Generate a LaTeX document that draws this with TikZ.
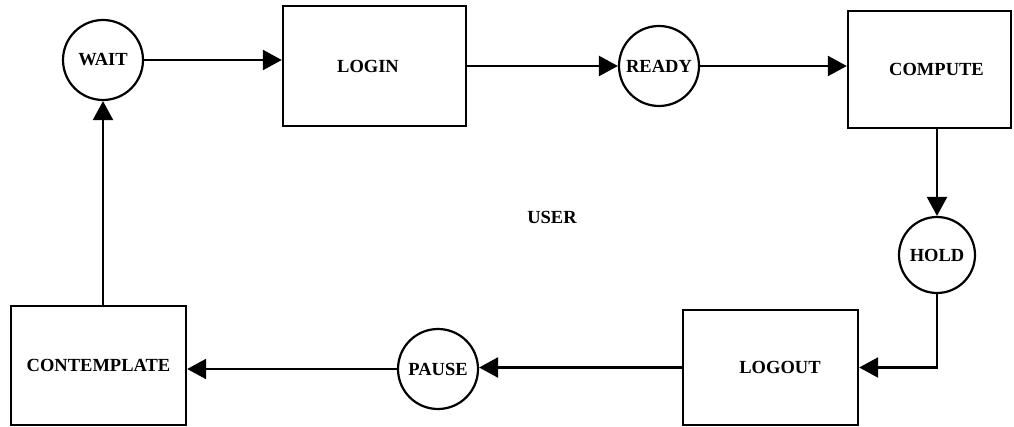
\documentclass[tikz,border=0pt]{standalone}
\usepackage{fontspec}
\setmainfont{Liberation Serif}
\usetikzlibrary{arrows.meta}
\begin{document}
\begin{tikzpicture}[x=1pt,y=-1pt,
  every node/.style={font=\fontsize{18.5}{20}\selectfont\bfseries},
  state/.style={draw, circle, line width=2.2pt, minimum size=80pt, inner sep=0pt},
  proc/.style={draw, rectangle, line width=2.4pt, inner sep=0pt},
  flow/.style={line width=2.4pt, -{Triangle[length=19pt,width=20pt]}}]
\useasboundingbox (0,0) rectangle (1014,427);
\node[state] (WAIT) at (103,60) {WAIT};
\node[proc, minimum width=183pt, minimum height=120pt] (LOGIN) at (374.5,66) {LOGIN\hspace*{13pt}};
\node[state] (READY) at (659,66) {READY};
\node[proc, minimum width=163pt, minimum height=117pt] (COMPUTE) at (929.5,69.5) {\hspace*{14pt}COMPUTE};
\node[state, minimum size=76pt] (HOLD) at (937,255) {HOLD};
\node[proc, minimum width=175pt, minimum height=115pt] (LOGOUT) at (770.5,367.5) {\hspace*{19pt}LOGOUT};
\node[state] (PAUSE) at (438,369) {PAUSE};
\node[proc, minimum width=175pt, minimum height=119pt] (CONTEMPLATE) at (98.5,365.5) {CONTEMPLATE};
\node (USER) at (552,217) {USER};
\draw[flow] (WAIT.east) -- (WAIT.east -| LOGIN.west);
\draw[flow] (LOGIN.east) -- (LOGIN.east -| READY.west);
\draw[flow] (READY.east) -- (READY.east -| COMPUTE.west);
\draw[flow] (HOLD.north |- COMPUTE.south) -- (HOLD.north);
\draw[flow] (HOLD.south) |- (LOGOUT.east);
\draw[flow] (LOGOUT.west) -- (LOGOUT.west -| PAUSE.east);
\draw[flow] (PAUSE.west) -- (PAUSE.west -| CONTEMPLATE.east);
\draw[flow] (WAIT.south |- CONTEMPLATE.north) -- (WAIT.south);
\end{tikzpicture}
\end{document}
